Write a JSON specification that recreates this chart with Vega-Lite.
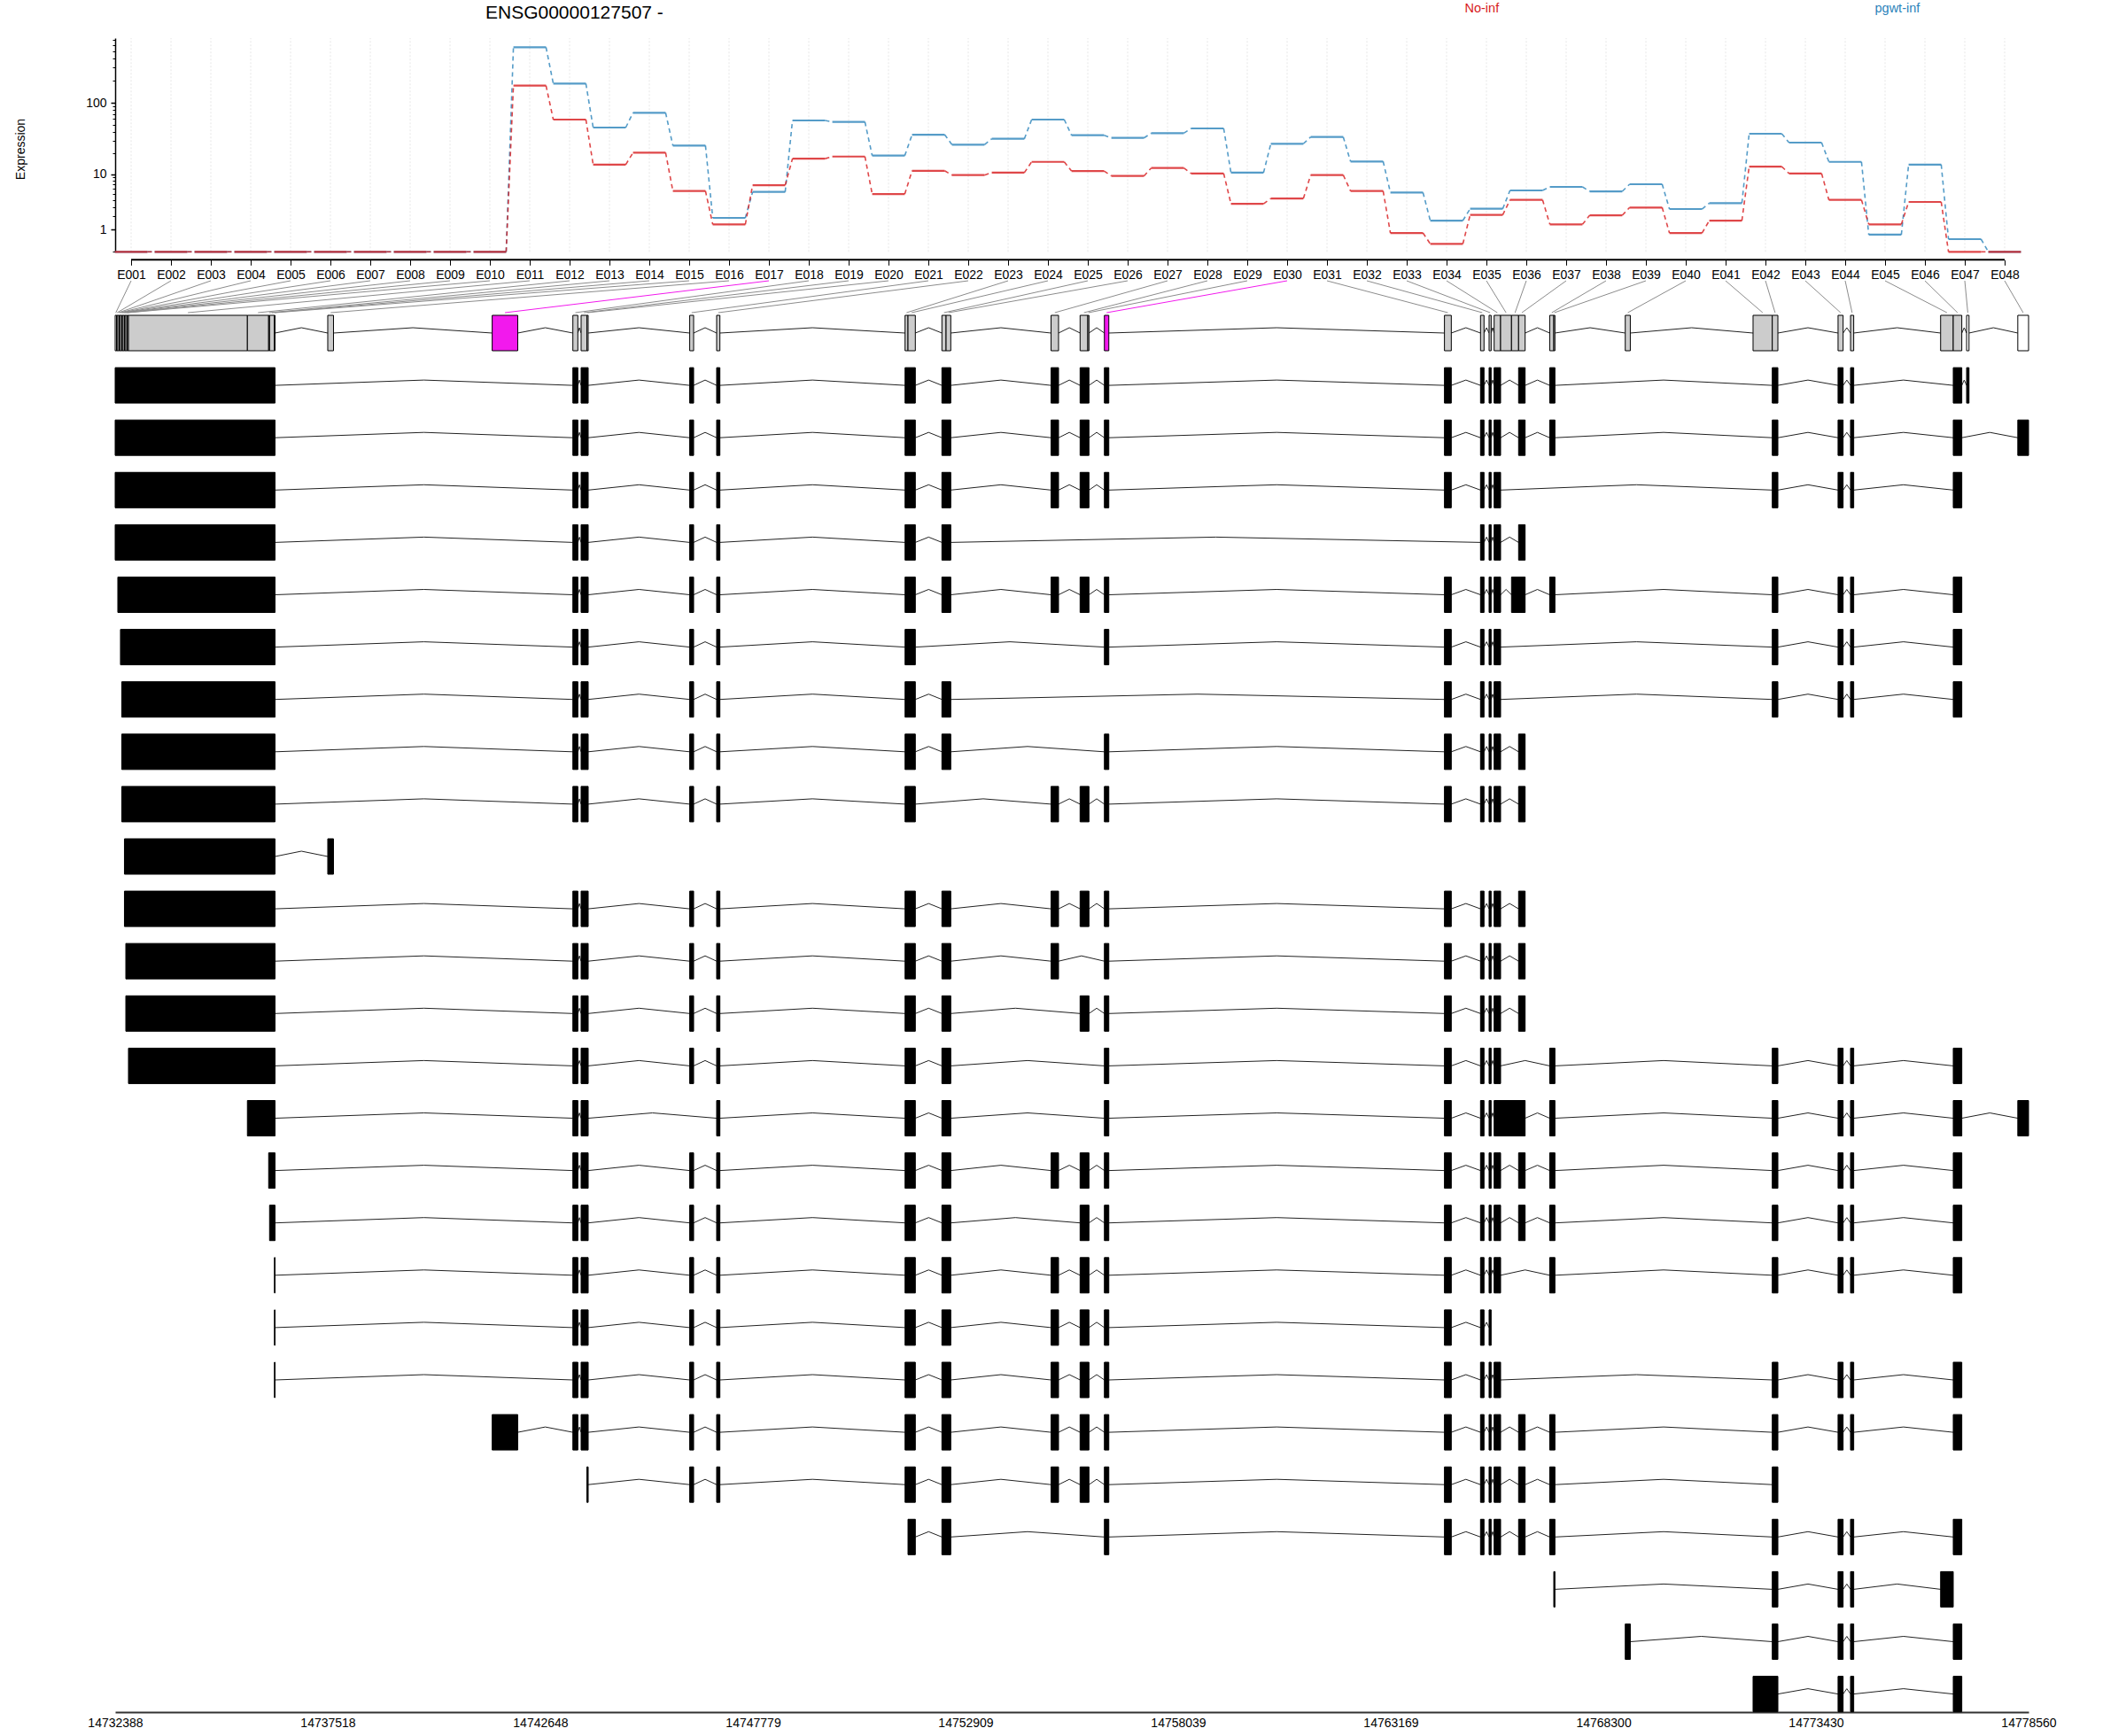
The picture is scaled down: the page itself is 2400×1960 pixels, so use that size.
{
"$schema":"https://vega.github.io/schema/vega-lite/v6.json",
"width":2160,"height":1890,
"autosize":{"type":"none"},
"padding":{"left":130,"top":43,"right":110,"bottom":27},
"background":"white",
"config":{"view":{"stroke":null},"font":"Liberation Sans"},
"title":{"text":"ENSG00000127507 -","anchor":"start","frame":"group","dx":418,"dy":19,"fontSize":21,"fontWeight":"normal","font":"Liberation Sans","offset":-20,"baseline":"alphabetic","color":"black"},
"datasets":{
"exons":[
{"exon":"E001","idx":1,"s":14732388,"e":14732420,"noinf":0,"pgwt":0,"status":"untested"},
{"exon":"E002","idx":2,"s":14732420,"e":14732452,"noinf":0,"pgwt":0,"status":"untested"},
{"exon":"E003","idx":3,"s":14732452,"e":14732484,"noinf":0,"pgwt":0,"status":"untested"},
{"exon":"E004","idx":4,"s":14732484,"e":14732516,"noinf":0,"pgwt":0,"status":"untested"},
{"exon":"E005","idx":5,"s":14732516,"e":14732548,"noinf":0,"pgwt":0,"status":"untested"},
{"exon":"E006","idx":6,"s":14732548,"e":14732580,"noinf":0,"pgwt":0,"status":"untested"},
{"exon":"E007","idx":7,"s":14732580,"e":14732612,"noinf":0,"pgwt":0,"status":"untested"},
{"exon":"E008","idx":8,"s":14732612,"e":14732645,"noinf":0,"pgwt":0,"status":"untested"},
{"exon":"E009","idx":9,"s":14732645,"e":14732677,"noinf":0,"pgwt":0,"status":"untested"},
{"exon":"E010","idx":10,"s":14732677,"e":14732709,"noinf":0,"pgwt":0,"status":"untested"},
{"exon":"E011","idx":11,"s":14732709,"e":14735579,"noinf":170.7,"pgwt":562,"status":"tested"},
{"exon":"E012","idx":12,"s":14735579,"e":14736092,"noinf":59,"pgwt":182,"status":"tested"},
{"exon":"E013","idx":13,"s":14736092,"e":14736114,"noinf":13.9,"pgwt":45.9,"status":"tested"},
{"exon":"E014","idx":14,"s":14736114,"e":14736231,"noinf":20.5,"pgwt":73,"status":"tested"},
{"exon":"E015","idx":15,"s":14736231,"e":14736246,"noinf":5.57,"pgwt":25.8,"status":"tested"},
{"exon":"E016","idx":16,"s":14737518,"e":14737657,"noinf":1.34,"pgwt":1.86,"status":"tested"},
{"exon":"E017","idx":17,"s":14741486,"e":14742103,"noinf":6.88,"pgwt":5.39,"status":"sig"},
{"exon":"E018","idx":18,"s":14743433,"e":14743553,"noinf":16.9,"pgwt":57.4,"status":"tested"},
{"exon":"E019","idx":19,"s":14743632,"e":14743771,"noinf":18.1,"pgwt":54.8,"status":"tested"},
{"exon":"E020","idx":20,"s":14743771,"e":14743803,"noinf":4.99,"pgwt":18.7,"status":"tested"},
{"exon":"E021","idx":21,"s":14746252,"e":14746347,"noinf":11.3,"pgwt":36.6,"status":"tested"},
{"exon":"E022","idx":22,"s":14746902,"e":14746981,"noinf":9.75,"pgwt":26.6,"status":"tested"},
{"exon":"E023","idx":23,"s":14751449,"e":14751520,"noinf":10.6,"pgwt":32.1,"status":"tested"},
{"exon":"E024","idx":24,"s":14751520,"e":14751697,"noinf":15.2,"pgwt":59,"status":"tested"},
{"exon":"E025","idx":25,"s":14752338,"e":14752439,"noinf":11.2,"pgwt":36,"status":"tested"},
{"exon":"E026","idx":26,"s":14752439,"e":14752552,"noinf":9.46,"pgwt":33,"status":"tested"},
{"exon":"E027","idx":27,"s":14754972,"e":14755153,"noinf":12.4,"pgwt":38.4,"status":"tested"},
{"exon":"E028","idx":28,"s":14755673,"e":14755859,"noinf":10.3,"pgwt":44.6,"status":"tested"},
{"exon":"E029","idx":29,"s":14755859,"e":14755887,"noinf":3.43,"pgwt":10.6,"status":"tested"},
{"exon":"E030","idx":30,"s":14756259,"e":14756366,"noinf":4.22,"pgwt":27.4,"status":"sig"},
{"exon":"E031","idx":31,"s":14764465,"e":14764630,"noinf":9.75,"pgwt":34,"status":"tested"},
{"exon":"E032","idx":32,"s":14765335,"e":14765420,"noinf":5.57,"pgwt":15.4,"status":"tested"},
{"exon":"E033","idx":33,"s":14765542,"e":14765592,"noinf":0.79,"pgwt":5.27,"status":"tested"},
{"exon":"E034","idx":34,"s":14765664,"e":14765820,"noinf":0.28,"pgwt":1.63,"status":"tested"},
{"exon":"E035","idx":35,"s":14765820,"e":14766083,"noinf":2.13,"pgwt":2.79,"status":"tested"},
{"exon":"E036","idx":36,"s":14766083,"e":14766254,"noinf":3.99,"pgwt":5.69,"status":"tested"},
{"exon":"E037","idx":37,"s":14766254,"e":14766412,"noinf":1.34,"pgwt":6.46,"status":"tested"},
{"exon":"E038","idx":38,"s":14767005,"e":14767103,"noinf":2.1,"pgwt":5.5,"status":"tested"},
{"exon":"E039","idx":39,"s":14767103,"e":14767131,"noinf":2.94,"pgwt":7.1,"status":"tested"},
{"exon":"E040","idx":40,"s":14768828,"e":14768950,"noinf":0.79,"pgwt":2.76,"status":"tested"},
{"exon":"E041","idx":41,"s":14771912,"e":14772376,"noinf":1.63,"pgwt":3.51,"status":"tested"},
{"exon":"E042","idx":42,"s":14772376,"e":14772511,"noinf":13,"pgwt":37.7,"status":"tested"},
{"exon":"E043","idx":43,"s":14773963,"e":14774085,"noinf":10.3,"pgwt":28.4,"status":"tested"},
{"exon":"E044","idx":44,"s":14774264,"e":14774341,"noinf":3.99,"pgwt":15.2,"status":"tested"},
{"exon":"E045","idx":45,"s":14776438,"e":14776743,"noinf":1.34,"pgwt":0.7,"status":"tested"},
{"exon":"E046","idx":46,"s":14776743,"e":14776949,"noinf":3.68,"pgwt":13.9,"status":"tested"},
{"exon":"E047","idx":47,"s":14777065,"e":14777123,"noinf":0,"pgwt":0.48,"status":"untested"},
{"exon":"E048","idx":48,"s":14778300,"e":14778560,"noinf":0,"pgwt":0,"status":"untested"}
],
"tx":[
{"t":1,"s":14732388,"e":14736246},{"t":1,"s":14743433,"e":14743553},{"t":1,"s":14743632,"e":14743803},{"t":1,"s":14746252,"e":14746347},{"t":1,"s":14746902,"e":14746981},{"t":1,"s":14751449,"e":14751697},{"t":1,"s":14752338,"e":14752552},{"t":1,"s":14754972,"e":14755153},{"t":1,"s":14755673,"e":14755887},{"t":1,"s":14756259,"e":14756366},{"t":1,"s":14764465,"e":14764630},{"t":1,"s":14765335,"e":14765420},{"t":1,"s":14765542,"e":14765592},{"t":1,"s":14765664,"e":14765820},{"t":1,"s":14766254,"e":14766412},{"t":1,"s":14767005,"e":14767131},{"t":1,"s":14772376,"e":14772511},{"t":1,"s":14773963,"e":14774085},{"t":1,"s":14774264,"e":14774341},{"t":1,"s":14776743,"e":14776949},{"t":1,"s":14777065,"e":14777123},
{"t":2,"s":14732388,"e":14736246},{"t":2,"s":14743433,"e":14743553},{"t":2,"s":14743632,"e":14743803},{"t":2,"s":14746252,"e":14746347},{"t":2,"s":14746902,"e":14746981},{"t":2,"s":14751449,"e":14751697},{"t":2,"s":14752338,"e":14752552},{"t":2,"s":14754972,"e":14755153},{"t":2,"s":14755673,"e":14755887},{"t":2,"s":14756259,"e":14756366},{"t":2,"s":14764465,"e":14764630},{"t":2,"s":14765335,"e":14765420},{"t":2,"s":14765542,"e":14765592},{"t":2,"s":14765664,"e":14765820},{"t":2,"s":14766254,"e":14766412},{"t":2,"s":14767005,"e":14767131},{"t":2,"s":14772376,"e":14772511},{"t":2,"s":14773963,"e":14774085},{"t":2,"s":14774264,"e":14774341},{"t":2,"s":14776743,"e":14776949},{"t":2,"s":14778300,"e":14778560},
{"t":3,"s":14732388,"e":14736246},{"t":3,"s":14743433,"e":14743553},{"t":3,"s":14743632,"e":14743803},{"t":3,"s":14746252,"e":14746347},{"t":3,"s":14746902,"e":14746981},{"t":3,"s":14751449,"e":14751697},{"t":3,"s":14752338,"e":14752552},{"t":3,"s":14754972,"e":14755153},{"t":3,"s":14755673,"e":14755887},{"t":3,"s":14756259,"e":14756366},{"t":3,"s":14764465,"e":14764630},{"t":3,"s":14765335,"e":14765420},{"t":3,"s":14765542,"e":14765592},{"t":3,"s":14765664,"e":14765820},{"t":3,"s":14772376,"e":14772511},{"t":3,"s":14773963,"e":14774085},{"t":3,"s":14774264,"e":14774341},{"t":3,"s":14776743,"e":14776949},
{"t":4,"s":14732388,"e":14736246},{"t":4,"s":14743433,"e":14743553},{"t":4,"s":14743632,"e":14743803},{"t":4,"s":14746252,"e":14746347},{"t":4,"s":14746902,"e":14746981},{"t":4,"s":14751449,"e":14751697},{"t":4,"s":14752338,"e":14752552},{"t":4,"s":14765335,"e":14765420},{"t":4,"s":14765542,"e":14765592},{"t":4,"s":14765664,"e":14765820},{"t":4,"s":14766254,"e":14766412},
{"t":5,"s":14732452,"e":14736246},{"t":5,"s":14743433,"e":14743553},{"t":5,"s":14743632,"e":14743803},{"t":5,"s":14746252,"e":14746347},{"t":5,"s":14746902,"e":14746981},{"t":5,"s":14751449,"e":14751697},{"t":5,"s":14752338,"e":14752552},{"t":5,"s":14754972,"e":14755153},{"t":5,"s":14755673,"e":14755887},{"t":5,"s":14756259,"e":14756366},{"t":5,"s":14764465,"e":14764630},{"t":5,"s":14765335,"e":14765420},{"t":5,"s":14765542,"e":14765592},{"t":5,"s":14765664,"e":14765820},{"t":5,"s":14766083,"e":14766412},{"t":5,"s":14767005,"e":14767131},{"t":5,"s":14772376,"e":14772511},{"t":5,"s":14773963,"e":14774085},{"t":5,"s":14774264,"e":14774341},{"t":5,"s":14776743,"e":14776949},
{"t":6,"s":14732516,"e":14736246},{"t":6,"s":14743433,"e":14743553},{"t":6,"s":14743632,"e":14743803},{"t":6,"s":14746252,"e":14746347},{"t":6,"s":14746902,"e":14746981},{"t":6,"s":14751449,"e":14751697},{"t":6,"s":14756259,"e":14756366},{"t":6,"s":14764465,"e":14764630},{"t":6,"s":14765335,"e":14765420},{"t":6,"s":14765542,"e":14765592},{"t":6,"s":14765664,"e":14765820},{"t":6,"s":14772376,"e":14772511},{"t":6,"s":14773963,"e":14774085},{"t":6,"s":14774264,"e":14774341},{"t":6,"s":14776743,"e":14776949},
{"t":7,"s":14732548,"e":14736246},{"t":7,"s":14743433,"e":14743553},{"t":7,"s":14743632,"e":14743803},{"t":7,"s":14746252,"e":14746347},{"t":7,"s":14746902,"e":14746981},{"t":7,"s":14751449,"e":14751697},{"t":7,"s":14752338,"e":14752552},{"t":7,"s":14764465,"e":14764630},{"t":7,"s":14765335,"e":14765420},{"t":7,"s":14765542,"e":14765592},{"t":7,"s":14765664,"e":14765820},{"t":7,"s":14772376,"e":14772511},{"t":7,"s":14773963,"e":14774085},{"t":7,"s":14774264,"e":14774341},{"t":7,"s":14776743,"e":14776949},
{"t":8,"s":14732548,"e":14736246},{"t":8,"s":14743433,"e":14743553},{"t":8,"s":14743632,"e":14743803},{"t":8,"s":14746252,"e":14746347},{"t":8,"s":14746902,"e":14746981},{"t":8,"s":14751449,"e":14751697},{"t":8,"s":14752338,"e":14752552},{"t":8,"s":14756259,"e":14756366},{"t":8,"s":14764465,"e":14764630},{"t":8,"s":14765335,"e":14765420},{"t":8,"s":14765542,"e":14765592},{"t":8,"s":14765664,"e":14765820},{"t":8,"s":14766254,"e":14766412},
{"t":9,"s":14732548,"e":14736246},{"t":9,"s":14743433,"e":14743553},{"t":9,"s":14743632,"e":14743803},{"t":9,"s":14746252,"e":14746347},{"t":9,"s":14746902,"e":14746981},{"t":9,"s":14751449,"e":14751697},{"t":9,"s":14754972,"e":14755153},{"t":9,"s":14755673,"e":14755887},{"t":9,"s":14756259,"e":14756366},{"t":9,"s":14764465,"e":14764630},{"t":9,"s":14765335,"e":14765420},{"t":9,"s":14765542,"e":14765592},{"t":9,"s":14765664,"e":14765820},{"t":9,"s":14766254,"e":14766412},
{"t":10,"s":14732612,"e":14736246},{"t":10,"s":14737518,"e":14737657},
{"t":11,"s":14732612,"e":14736246},{"t":11,"s":14743433,"e":14743553},{"t":11,"s":14743632,"e":14743803},{"t":11,"s":14746252,"e":14746347},{"t":11,"s":14746902,"e":14746981},{"t":11,"s":14751449,"e":14751697},{"t":11,"s":14752338,"e":14752552},{"t":11,"s":14754972,"e":14755153},{"t":11,"s":14755673,"e":14755887},{"t":11,"s":14756259,"e":14756366},{"t":11,"s":14764465,"e":14764630},{"t":11,"s":14765335,"e":14765420},{"t":11,"s":14765542,"e":14765592},{"t":11,"s":14765664,"e":14765820},{"t":11,"s":14766254,"e":14766412},
{"t":12,"s":14732645,"e":14736246},{"t":12,"s":14743433,"e":14743553},{"t":12,"s":14743632,"e":14743803},{"t":12,"s":14746252,"e":14746347},{"t":12,"s":14746902,"e":14746981},{"t":12,"s":14751449,"e":14751697},{"t":12,"s":14752338,"e":14752552},{"t":12,"s":14754972,"e":14755153},{"t":12,"s":14756259,"e":14756366},{"t":12,"s":14764465,"e":14764630},{"t":12,"s":14765335,"e":14765420},{"t":12,"s":14765542,"e":14765592},{"t":12,"s":14765664,"e":14765820},{"t":12,"s":14766254,"e":14766412},
{"t":13,"s":14732645,"e":14736246},{"t":13,"s":14743433,"e":14743553},{"t":13,"s":14743632,"e":14743803},{"t":13,"s":14746252,"e":14746347},{"t":13,"s":14746902,"e":14746981},{"t":13,"s":14751449,"e":14751697},{"t":13,"s":14752338,"e":14752552},{"t":13,"s":14755673,"e":14755887},{"t":13,"s":14756259,"e":14756366},{"t":13,"s":14764465,"e":14764630},{"t":13,"s":14765335,"e":14765420},{"t":13,"s":14765542,"e":14765592},{"t":13,"s":14765664,"e":14765820},{"t":13,"s":14766254,"e":14766412},
{"t":14,"s":14732709,"e":14736246},{"t":14,"s":14743433,"e":14743553},{"t":14,"s":14743632,"e":14743803},{"t":14,"s":14746252,"e":14746347},{"t":14,"s":14746902,"e":14746981},{"t":14,"s":14751449,"e":14751697},{"t":14,"s":14752338,"e":14752552},{"t":14,"s":14756259,"e":14756366},{"t":14,"s":14764465,"e":14764630},{"t":14,"s":14765335,"e":14765420},{"t":14,"s":14765542,"e":14765592},{"t":14,"s":14765664,"e":14765820},{"t":14,"s":14767005,"e":14767131},{"t":14,"s":14772376,"e":14772511},{"t":14,"s":14773963,"e":14774085},{"t":14,"s":14774264,"e":14774341},{"t":14,"s":14776743,"e":14776949},
{"t":15,"s":14735579,"e":14736246},{"t":15,"s":14743433,"e":14743553},{"t":15,"s":14743632,"e":14743803},{"t":15,"s":14746902,"e":14746981},{"t":15,"s":14751449,"e":14751697},{"t":15,"s":14752338,"e":14752552},{"t":15,"s":14756259,"e":14756366},{"t":15,"s":14764465,"e":14764630},{"t":15,"s":14765335,"e":14765420},{"t":15,"s":14765542,"e":14765592},{"t":15,"s":14765664,"e":14766412},{"t":15,"s":14767005,"e":14767131},{"t":15,"s":14772376,"e":14772511},{"t":15,"s":14773963,"e":14774085},{"t":15,"s":14774264,"e":14774341},{"t":15,"s":14776743,"e":14776949},{"t":15,"s":14778300,"e":14778560},
{"t":16,"s":14736092,"e":14736246},{"t":16,"s":14743433,"e":14743553},{"t":16,"s":14743632,"e":14743803},{"t":16,"s":14746252,"e":14746347},{"t":16,"s":14746902,"e":14746981},{"t":16,"s":14751449,"e":14751697},{"t":16,"s":14752338,"e":14752552},{"t":16,"s":14754972,"e":14755153},{"t":16,"s":14755673,"e":14755887},{"t":16,"s":14756259,"e":14756366},{"t":16,"s":14764465,"e":14764630},{"t":16,"s":14765335,"e":14765420},{"t":16,"s":14765542,"e":14765592},{"t":16,"s":14765664,"e":14765820},{"t":16,"s":14766254,"e":14766412},{"t":16,"s":14767005,"e":14767131},{"t":16,"s":14772376,"e":14772511},{"t":16,"s":14773963,"e":14774085},{"t":16,"s":14774264,"e":14774341},{"t":16,"s":14776743,"e":14776949},
{"t":17,"s":14736114,"e":14736246},{"t":17,"s":14743433,"e":14743553},{"t":17,"s":14743632,"e":14743803},{"t":17,"s":14746252,"e":14746347},{"t":17,"s":14746902,"e":14746981},{"t":17,"s":14751449,"e":14751697},{"t":17,"s":14752338,"e":14752552},{"t":17,"s":14755673,"e":14755887},{"t":17,"s":14756259,"e":14756366},{"t":17,"s":14764465,"e":14764630},{"t":17,"s":14765335,"e":14765420},{"t":17,"s":14765542,"e":14765592},{"t":17,"s":14765664,"e":14765820},{"t":17,"s":14766254,"e":14766412},{"t":17,"s":14767005,"e":14767131},{"t":17,"s":14772376,"e":14772511},{"t":17,"s":14773963,"e":14774085},{"t":17,"s":14774264,"e":14774341},{"t":17,"s":14776743,"e":14776949},
{"t":18,"s":14736231,"e":14736246},{"t":18,"s":14743433,"e":14743553},{"t":18,"s":14743632,"e":14743803},{"t":18,"s":14746252,"e":14746347},{"t":18,"s":14746902,"e":14746981},{"t":18,"s":14751449,"e":14751697},{"t":18,"s":14752338,"e":14752552},{"t":18,"s":14754972,"e":14755153},{"t":18,"s":14755673,"e":14755887},{"t":18,"s":14756259,"e":14756366},{"t":18,"s":14764465,"e":14764630},{"t":18,"s":14765335,"e":14765420},{"t":18,"s":14765542,"e":14765592},{"t":18,"s":14765664,"e":14765820},{"t":18,"s":14767005,"e":14767131},{"t":18,"s":14772376,"e":14772511},{"t":18,"s":14773963,"e":14774085},{"t":18,"s":14774264,"e":14774341},{"t":18,"s":14776743,"e":14776949},
{"t":19,"s":14736231,"e":14736246},{"t":19,"s":14743433,"e":14743553},{"t":19,"s":14743632,"e":14743803},{"t":19,"s":14746252,"e":14746347},{"t":19,"s":14746902,"e":14746981},{"t":19,"s":14751449,"e":14751697},{"t":19,"s":14752338,"e":14752552},{"t":19,"s":14754972,"e":14755153},{"t":19,"s":14755673,"e":14755887},{"t":19,"s":14756259,"e":14756366},{"t":19,"s":14764465,"e":14764630},{"t":19,"s":14765335,"e":14765420},{"t":19,"s":14765542,"e":14765592},
{"t":20,"s":14736231,"e":14736246},{"t":20,"s":14743433,"e":14743553},{"t":20,"s":14743632,"e":14743803},{"t":20,"s":14746252,"e":14746347},{"t":20,"s":14746902,"e":14746981},{"t":20,"s":14751449,"e":14751697},{"t":20,"s":14752338,"e":14752552},{"t":20,"s":14754972,"e":14755153},{"t":20,"s":14755673,"e":14755887},{"t":20,"s":14756259,"e":14756366},{"t":20,"s":14764465,"e":14764630},{"t":20,"s":14765335,"e":14765420},{"t":20,"s":14765542,"e":14765592},{"t":20,"s":14765664,"e":14765820},{"t":20,"s":14772376,"e":14772511},{"t":20,"s":14773963,"e":14774085},{"t":20,"s":14774264,"e":14774341},{"t":20,"s":14776743,"e":14776949},
{"t":21,"s":14741486,"e":14742103},{"t":21,"s":14743433,"e":14743553},{"t":21,"s":14743632,"e":14743803},{"t":21,"s":14746252,"e":14746347},{"t":21,"s":14746902,"e":14746981},{"t":21,"s":14751449,"e":14751697},{"t":21,"s":14752338,"e":14752552},{"t":21,"s":14754972,"e":14755153},{"t":21,"s":14755673,"e":14755887},{"t":21,"s":14756259,"e":14756366},{"t":21,"s":14764465,"e":14764630},{"t":21,"s":14765335,"e":14765420},{"t":21,"s":14765542,"e":14765592},{"t":21,"s":14765664,"e":14765820},{"t":21,"s":14766254,"e":14766412},{"t":21,"s":14767005,"e":14767131},{"t":21,"s":14772376,"e":14772511},{"t":21,"s":14773963,"e":14774085},{"t":21,"s":14774264,"e":14774341},{"t":21,"s":14776743,"e":14776949},
{"t":22,"s":14743771,"e":14743803},{"t":22,"s":14746252,"e":14746347},{"t":22,"s":14746902,"e":14746981},{"t":22,"s":14751449,"e":14751697},{"t":22,"s":14752338,"e":14752552},{"t":22,"s":14754972,"e":14755153},{"t":22,"s":14755673,"e":14755887},{"t":22,"s":14756259,"e":14756366},{"t":22,"s":14764465,"e":14764630},{"t":22,"s":14765335,"e":14765420},{"t":22,"s":14765542,"e":14765592},{"t":22,"s":14765664,"e":14765820},{"t":22,"s":14766254,"e":14766412},{"t":22,"s":14767005,"e":14767131},{"t":22,"s":14772376,"e":14772511},
{"t":23,"s":14751520,"e":14751697},{"t":23,"s":14752338,"e":14752552},{"t":23,"s":14756259,"e":14756366},{"t":23,"s":14764465,"e":14764630},{"t":23,"s":14765335,"e":14765420},{"t":23,"s":14765542,"e":14765592},{"t":23,"s":14765664,"e":14765820},{"t":23,"s":14766254,"e":14766412},{"t":23,"s":14767005,"e":14767131},{"t":23,"s":14772376,"e":14772511},{"t":23,"s":14773963,"e":14774085},{"t":23,"s":14774264,"e":14774341},{"t":23,"s":14776743,"e":14776949},
{"t":24,"s":14767103,"e":14767131},{"t":24,"s":14772376,"e":14772511},{"t":24,"s":14773963,"e":14774085},{"t":24,"s":14774264,"e":14774341},{"t":24,"s":14776438,"e":14776743},
{"t":25,"s":14768828,"e":14768950},{"t":25,"s":14772376,"e":14772511},{"t":25,"s":14773963,"e":14774085},{"t":25,"s":14774264,"e":14774341},{"t":25,"s":14776743,"e":14776949},
{"t":26,"s":14771912,"e":14772511},{"t":26,"s":14773963,"e":14774085},{"t":26,"s":14774264,"e":14774341},{"t":26,"s":14776743,"e":14776949}
]
},
"layer":[
{
"data":{"name":"exons"},
"layer":[
{
"mark":{"type":"rule","color":"#e6e6e6","strokeDash":[2,2],"strokeWidth":1},
"encoding":{
"x":{"field":"idx","type":"quantitative","scale":{"domain":[0.6,48.6],"nice":false,"zero":false},
"axis":{"orient":"bottom","offset":-1639.7,"values":[1,2,3,4,5,6,7,8,9,10,11,12,13,14,15,16,17,18,19,20,21,22,23,24,25,26,27,28,29,30,31,32,33,34,35,36,37,38,39,40,41,42,43,44,45,46,47,48],"labelExpr":"'E0' + (datum.value < 10 ? '0' : '') + datum.value","domain":false,"grid":false,"tickSize":6,"tickColor":"black","tickWidth":1,"labelPadding":4,"labelFontSize":14,"labelColor":"black","labelFlush":false,"labelOverlap":false,"labelBound":false,"title":null}},
"y":{"datum":0,"type":"quantitative","scale":{"type":"symlog","constant":1,"domain":[0,747],"range":[241.3,0],"nice":false,"zero":false},
"axis":{"orient":"left","values":[0,2,3,4,5,6,7,8,9,20,30,40,50,60,70,80,90,200,300,400,500,600,700],"labels":false,"domain":false,"grid":false,"tickSize":3,"tickColor":"black","tickWidth":1,"title":null}},
"y2":{"datum":747}
}
},
{
"data":{"values":[{"k":1}]},
"mark":{"type":"rule","yOffset":9,"strokeWidth":2,"color":"black"},
"encoding":{"x":{"datum":1,"type":"quantitative","axis":null},"x2":{"datum":48},"y":{"datum":0,"type":"quantitative","axis":null}}
},
{
"transform":[{"fold":["pgwt","noinf"],"as":["cond","val"]},
{"calculate":"datum.cond == 'noinf' ? 'No-inf' : 'pgwt-inf'","as":"grp"},
{"window":[{"op":"lead","field":"val","as":"nval"},{"op":"lead","field":"idx","as":"nidx"}],"sort":[{"field":"idx"}],"groupby":["grp"]},
{"filter":"datum.nidx != null"}],
"mark":{"type":"rule","strokeDash":[5,4],"strokeWidth":1.6,"xOffset":18.4,"x2Offset":-18.4,"opacity":0.8},
"encoding":{"x":{"field":"idx","type":"quantitative","axis":null},"x2":{"field":"nidx"},"y":{"field":"val","type":"quantitative","axis":null},"y2":{"field":"nval"},
"color":{"field":"grp","type":"nominal","scale":{"domain":["No-inf","pgwt-inf"],"range":["#D7191C","#2B83BA"]},"legend":null}}
},
{
"transform":[{"fold":["pgwt","noinf"],"as":["cond","val"]},{"calculate":"datum.cond == 'noinf' ? 'No-inf' : 'pgwt-inf'","as":"grp"}],
"mark":{"type":"rule","strokeWidth":2.2,"xOffset":-18.4,"x2Offset":18.4,"opacity":0.8},
"encoding":{"x":{"field":"idx","type":"quantitative","axis":null},"x2":{"field":"idx"},
"y":{"field":"val","type":"quantitative","axis":{"orient":"left","values":[1,10,100],"domain":true,"domainColor":"black","domainWidth":1.5,"tickSize":5,"tickColor":"black","tickWidth":1.5,"labelFontSize":14,"labelPadding":5,"labelColor":"black","grid":false,"title":"Expression","titleX":-100,"titleY":125,"titleFontSize":14,"titleFontWeight":"normal","titleColor":"black"}},
"color":{"field":"grp","type":"nominal","scale":{"domain":["No-inf","pgwt-inf"],"range":["#D7191C","#2B83BA"]},
"legend":{"orient":"none","legendX":1509,"legendY":-40,"direction":"horizontal","title":null,"symbolSize":0,"symbolStrokeWidth":0,"symbolOpacity":0,"labelFontSize":14.5,"labelOffset":0,"columnPadding":409,"encode":{"labels":{"update":{"fill":{"signal":"datum.value == 'No-inf' ? '#D7191C' : '#2B83BA'"}}}}}}}
}
],
"resolve":{"axis":{"x":"independent","y":"independent"},"legend":{"color":"independent"}}
},
{
"layer":[
{
"data":{"name":"exons"},
"transform":[{"calculate":"14732388 + (datum.idx - 0.6) / 48 * 46172","as":"xtop"},{"calculate":"(datum.s + datum.e) / 2","as":"xmid"}],
"mark":{"type":"rule","strokeWidth":1,"yOffset":-59,"y2Offset":-23},
"encoding":{
"x":{"field":"xtop","type":"quantitative","scale":{"domain":[14732388,14778560],"nice":false,"zero":false},
"axis":{"orient":"bottom","values":[14732388,14737518,14742648,14747779,14752909,14758039,14763169,14768300,14773430,14778560],"format":"d","ticks":false,"domainColor":"#333333","domainWidth":2,"labelFontSize":14,"labelColor":"black","labelPadding":5,"labelFlush":false,"labelOverlap":false,"labelBound":false,"grid":false,"title":null}},
"x2":{"field":"xmid"},
"y":{"datum":0,"type":"quantitative","scale":{"domain":[0,26],"range":[333,1869.6],"nice":false,"zero":false},"axis":null},
"y2":{"datum":0},
"stroke":{"field":"status","type":"nominal","scale":{"domain":["untested","tested","sig"],"range":["#8c8c8c","#8c8c8c","#F219ED"]},"legend":null}
}
},
{
"data":{"name":"exons"},
"transform":[{"window":[{"op":"lag","field":"e","as":"pe"}],"sort":[{"field":"s"}]},{"filter":"datum.pe != null && datum.s > datum.pe"},{"calculate":"(datum.s + datum.pe) / 2","as":"mid"}],
"mark":{"type":"rule","strokeWidth":1,"color":"#222222","y2Offset":-6},
"encoding":{"x":{"field":"pe","type":"quantitative"},"x2":{"field":"mid"},"y":{"datum":0,"type":"quantitative"},"y2":{"datum":0}}
},
{
"data":{"name":"exons"},
"transform":[{"window":[{"op":"lag","field":"e","as":"pe"}],"sort":[{"field":"s"}]},{"filter":"datum.pe != null && datum.s > datum.pe"},{"calculate":"(datum.s + datum.pe) / 2","as":"mid"}],
"mark":{"type":"rule","strokeWidth":1,"color":"#222222","yOffset":-6},
"encoding":{"x":{"field":"mid","type":"quantitative"},"x2":{"field":"s"},"y":{"datum":0,"type":"quantitative"},"y2":{"datum":0}}
},
{
"data":{"name":"exons"},
"mark":{"type":"rect","stroke":"black","strokeWidth":1,"yOffset":-20,"y2Offset":20},
"encoding":{"x":{"field":"s","type":"quantitative"},"x2":{"field":"e"},"y":{"datum":0,"type":"quantitative"},"y2":{"datum":0},
"fill":{"field":"status","type":"nominal","scale":{"domain":["untested","tested","sig"],"range":["#FFFFFF","#CCCCCC","#F219ED"]},"legend":null}}
},
{
"data":{"name":"tx"},
"transform":[{"window":[{"op":"lag","field":"e","as":"pe"}],"sort":[{"field":"s"}],"groupby":["t"]},{"filter":"datum.pe != null && datum.s > datum.pe"},{"calculate":"(datum.s + datum.pe) / 2","as":"mid"}],
"mark":{"type":"rule","strokeWidth":1,"color":"#222222","y2Offset":-6},
"encoding":{"x":{"field":"pe","type":"quantitative"},"x2":{"field":"mid"},"y":{"field":"t","type":"quantitative"},"y2":{"field":"t"}}
},
{
"data":{"name":"tx"},
"transform":[{"window":[{"op":"lag","field":"e","as":"pe"}],"sort":[{"field":"s"}],"groupby":["t"]},{"filter":"datum.pe != null && datum.s > datum.pe"},{"calculate":"(datum.s + datum.pe) / 2","as":"mid"}],
"mark":{"type":"rule","strokeWidth":1,"color":"#222222","yOffset":-6},
"encoding":{"x":{"field":"mid","type":"quantitative"},"x2":{"field":"s"},"y":{"field":"t","type":"quantitative"},"y2":{"field":"t"}}
},
{
"data":{"name":"tx"},
"mark":{"type":"rect","fill":"black","stroke":"black","strokeWidth":1,"yOffset":-20,"y2Offset":20},
"encoding":{"x":{"field":"s","type":"quantitative"},"x2":{"field":"e"},"y":{"field":"t","type":"quantitative"},"y2":{"field":"t"}}
}
]
}
],
"resolve":{"scale":{"x":"independent","y":"independent"}}
}
